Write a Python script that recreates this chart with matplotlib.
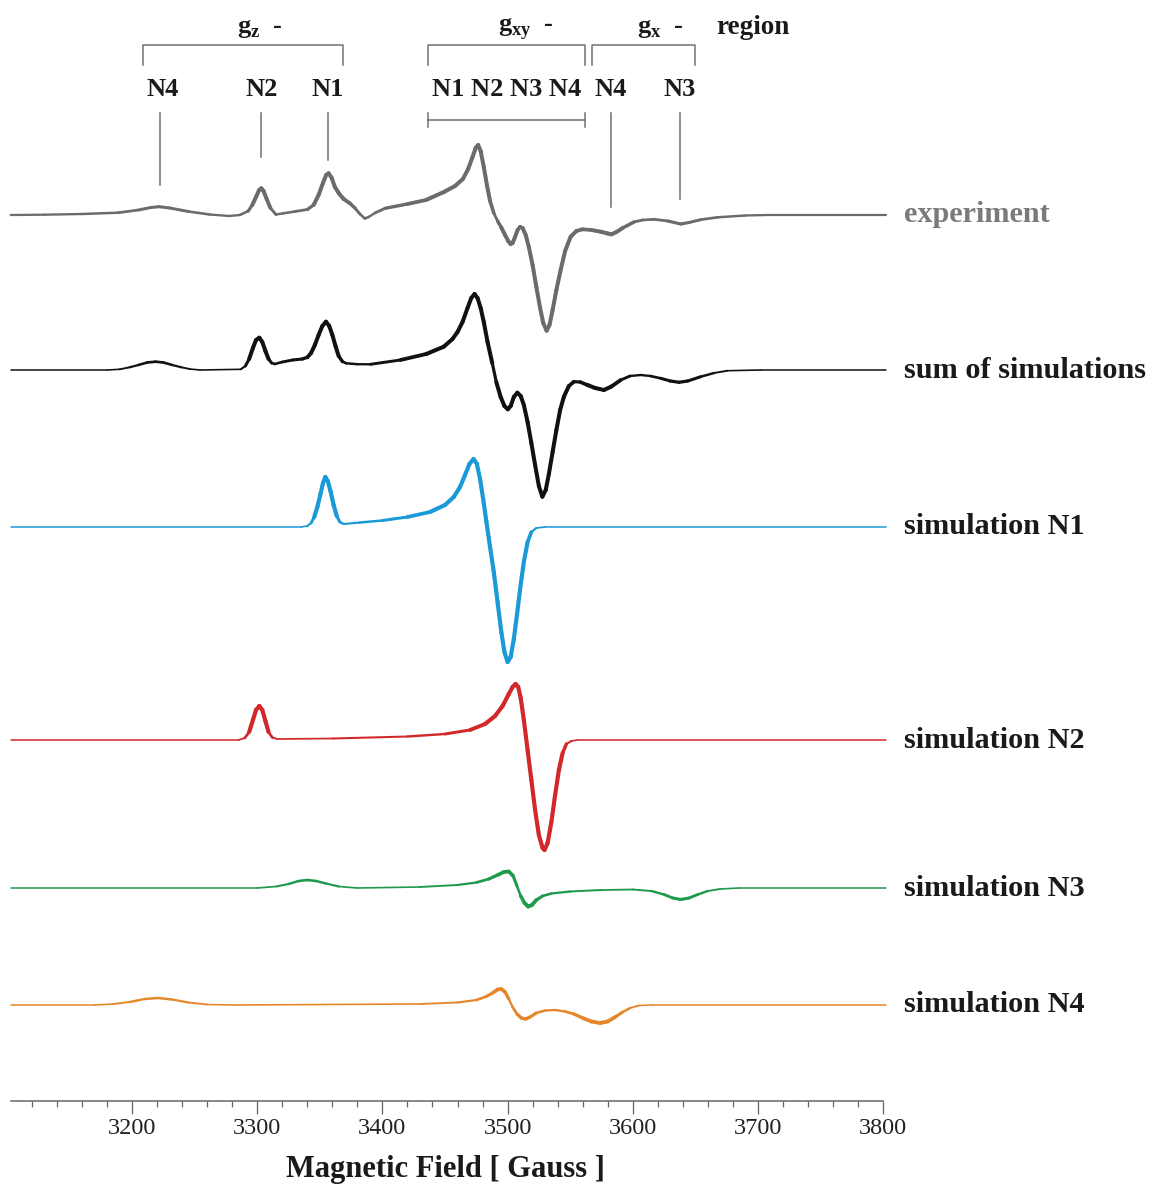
import numpy as np
import matplotlib.pyplot as plt
from matplotlib.collections import LineCollection

plt.rcParams['font.family'] = ['Liberation Serif', 'DejaVu Serif']
plt.rcParams['mathtext.fontset'] = 'custom'
plt.rcParams['mathtext.rm'] = 'Liberation Serif'
plt.rcParams['mathtext.bf'] = 'Liberation Serif:bold'

# field in Gauss, signal in arbitrary units (first derivative EPR)
exp_field = [3103, 3130, 3160, 3188.8, 3205, 3215, 3221.6, 3230, 3245, 3262, 3277.6, 3286, 3292.8,
             3296, 3299, 3301.5, 3303.2, 3305, 3307.5, 3310.5, 3314.9, 3320, 3330, 3340, 3345,
             3349, 3352.5, 3355, 3357, 3359.5, 3362, 3365.2, 3369, 3374, 3378, 3382, 3385.9,
             3389, 3394, 3402.2, 3420, 3434.8, 3449.6, 3458, 3464.3, 3468.5, 3472, 3474.5,
             3476.5, 3478.5, 3481, 3483.5, 3486, 3489, 3492, 3495, 3498, 3500.5, 3502.4, 3504,
             3506, 3508, 3510, 3512, 3514.5, 3517, 3520, 3523, 3526, 3528.5, 3531.2, 3533.5,
             3536, 3539, 3542.4, 3546, 3550.4, 3555, 3559.8, 3567, 3574.4, 3580, 3583, 3587,
             3592, 3601, 3608, 3617, 3628, 3638.4, 3645, 3655, 3667.8, 3690, 3707.8, 3802]
exp_signal = [0, 0.3, 1, 2.3, 5, 7.5, 8.3, 7, 3.5, 0.5, -1, 0, 4,
              10, 18, 25, 26.7, 24, 16, 7, 0.5, 1.5, 3.5, 5.5, 10,
              20, 32, 40, 41.7, 37, 28, 21.7, 16, 11.7, 7, 1, -3.5,
              -2, 2, 6.7, 11, 15, 23.3, 29, 36, 46, 58, 67,
              70, 64, 48, 30, 14, 2, -6, -12.5, -20, -26, -29, -28,
              -22, -15, -11.7, -13, -20, -32, -50, -72, -93, -108, -115.7, -110,
              -95, -75, -55, -36, -21.7, -16, -14.3, -15, -16.7, -18.5, -19.3, -17,
              -13, -7, -5, -4.3, -6, -9, -7.5, -4.5, -2.3, -0.5, 0, 0]

sum_field = [3103, 3180, 3190, 3198, 3205, 3212, 3218.7, 3225, 3232, 3239.4, 3246, 3254.2, 3286.8,
             3290.5, 3293.5, 3296.5, 3299, 3301.6, 3304, 3306.5, 3309, 3311.5, 3314, 3320, 3328.2,
             3336, 3340, 3343, 3346, 3349, 3352, 3354.9, 3357.5, 3360, 3362.5, 3365, 3368, 3371.1,
             3380, 3390.4, 3414.4, 3435, 3449, 3456, 3460, 3464, 3468, 3471, 3473.6, 3476, 3478.5,
             3481, 3484, 3487.8, 3491, 3494.4, 3497.5, 3500.2, 3502.5, 3505, 3507.8, 3510.5, 3513,
             3516, 3519, 3522, 3525, 3527.8, 3530.5, 3533, 3536, 3539, 3542, 3545, 3549, 3553,
             3558, 3563.8, 3570, 3577, 3583, 3590.4, 3598, 3606.4, 3614, 3622.4, 3630, 3637, 3644,
             3654.4, 3665, 3675.8, 3702.4, 3802]
sum_signal = [0, 0, 0.7, 2.7, 5, 7.5, 8.3, 7.5, 5, 2.7, 1, 0, 0.7,
              4, 11, 22, 30, 32.3, 28, 19, 11, 7, 6, 8, 10,
              11, 12.7, 17, 25, 35, 44, 48.3, 44, 35, 24, 14, 8.5, 6.7,
              5.8, 5.7, 10, 16, 23.3, 31, 38, 48, 62, 72, 76, 72, 62,
              48, 28, 6.7, -12, -26.7, -36, -39.3, -36, -27, -22.7, -26, -35,
              -52, -73, -95, -116, -126.7, -120, -104, -82, -60, -40, -26.7, -16, -11.7,
              -12, -15, -18, -20, -16.5, -10, -6, -5, -6, -8.3, -11, -12.3, -11,
              -6.7, -3, -0.7, 0, 0]

n1_field = [3103, 3335, 3340, 3343, 3345.5, 3348, 3350.5, 3352.5, 3354.4, 3356.3, 3358.5, 3361,
            3363.5, 3366, 3369, 3382, 3400, 3420, 3438, 3450, 3457, 3462, 3466, 3469.5, 3472.8,
            3475.5, 3478, 3480.5, 3483, 3486, 3489, 3492, 3495, 3497.5, 3500, 3502.5, 3505,
            3507.5, 3510, 3513, 3516, 3519, 3523, 3530, 3802]
n1_signal = [0, 0, 1, 4, 10, 20, 33, 44, 50, 46, 36, 22,
             11, 5, 3, 4.5, 6.5, 10, 15, 22, 30, 40, 52, 63, 68,
             63, 48, 28, 6, -20, -45, -75, -105, -125, -135, -130, -112,
             -88, -62, -35, -15, -5, -1, 0, 0]

n2_field = [3103, 3285, 3290, 3293.5, 3296.5, 3299, 3301.6, 3304, 3306.5, 3309, 3312, 3316, 3360,
            3420, 3450, 3470, 3482, 3490, 3496, 3501, 3504, 3506.4, 3508.5, 3510.5, 3513, 3516,
            3519, 3522, 3525, 3528, 3529.5, 3532, 3535, 3538, 3541, 3544, 3547, 3551, 3556, 3802]
n2_signal = [0, 0, 2, 8, 20, 30, 34, 30, 19, 8, 2.5, 1, 1.5,
             3.5, 6, 10, 16, 24, 34, 46, 53, 56, 53, 42, 20, -10,
             -40, -70, -95, -108, -110, -103, -82, -55, -30, -13, -4, -1, 0, 0]

n3_field = [3103, 3300, 3315, 3325, 3333, 3340, 3347, 3355, 3365, 3380, 3430, 3460, 3475, 3485,
            3492, 3497, 3501, 3504.5, 3507.5, 3510.5, 3513.5, 3516.5, 3519.5, 3523, 3528, 3535,
            3550, 3575, 3600, 3615, 3625, 3632, 3638.4, 3645, 3652, 3660, 3670, 3685, 3802]
n3_signal = [0, 0, 1.5, 4, 7, 8, 7, 4.5, 1.5, 0, 1, 3, 5.5, 9,
             13, 16, 16.5, 12, 2, -8, -15, -18.5, -17, -12, -8, -5.5,
             -3.5, -2, -1.5, -3, -6.5, -10, -11.5, -10, -6.5, -3, -1, 0, 0]

n4_field = [3103, 3170, 3185, 3198, 3210, 3220.8, 3232, 3245, 3260, 3280, 3430, 3460, 3475, 3483,
            3488, 3492, 3495, 3498, 3501, 3504, 3507.5, 3511, 3514.5, 3518, 3523, 3530, 3538,
            3546, 3553, 3560, 3567, 3574, 3580, 3586, 3592, 3598, 3605, 3615, 3802]
n4_signal = [0, 0, 1, 3, 6, 7, 5.5, 2.5, 0.5, 0, 1, 2.5, 5, 8.5,
             12, 15.5, 16, 13, 6, -2, -9, -13, -14, -12, -8, -5.5, -5,
             -6.5, -9, -13, -16.5, -18, -16.5, -12, -7, -3, -0.5, 0, 0]

trace_labels = ['experiment', 'sum of simulations', 'simulation N1',
                'simulation N2', 'simulation N3', 'simulation N4']


def draw_trace(ax, field, signal, offset, color, thin, thick):
    x = np.asarray(field, dtype=float)
    s = np.asarray(signal, dtype=float)
    pts = np.column_stack([x, offset + s]).reshape(-1, 1, 2)
    segs = np.concatenate([pts[:-1], pts[1:]], axis=1)
    amp = np.maximum(np.abs(s[:-1]), np.abs(s[1:]))
    lw = thin + (thick - thin) * np.clip(amp / 18.0, 0, 1)
    lc = LineCollection(segs, colors=color, linewidths=lw, capstyle='round',
                        joinstyle='round', clip_on=False)
    ax.add_collection(lc)


fig = plt.figure(figsize=(11.58, 11.94), dpi=100)
ax = fig.add_axes([7 / 1158, 93 / 1194, 876 / 1158, 1101 / 1194])
ax.set_xlim(3100, 3800)
ax.set_ylim(-1101, 0)

traces = [
    (exp_field, exp_signal, -215, '#6b6b6b', 1.6, 2.9),
    (sum_field, sum_signal, -370, '#111111', 1.1, 2.9),
    (n1_field, n1_signal, -527, '#1b9ad8', 1.1, 3.0),
    (n2_field, n2_signal, -740, '#d3282a', 1.1, 3.0),
    (n3_field, n3_signal, -888, '#1f9a4c', 1.1, 2.8),
    (n4_field, n4_signal, -1005, '#e5862a', 1.1, 2.8),
]
for (f, s, off, col, thin, thick), name in zip(traces, trace_labels):
    draw_trace(ax, f, s, off, col, thin, thick)
    ax.text(3817, off, name, fontsize=21.8, fontweight='bold', va='center', ha='left',
            color='#7a7a7a' if name == 'experiment' else '#1a1a1a', clip_on=False)

# region brackets and peak assignments
ann = dict(color='#707070', lw=1.1, clip_on=False)
for x0, x1 in [(3208.7, 3368.5), (3436.4, 3561.9), (3567.5, 3649.8)]:
    ax.plot([x0, x0, x1, x1], [-65, -45, -45, -65], **ann)
ax.plot([3436.4, 3561.9], [-120, -120], **ann)
ax.plot([3436.4, 3436.4], [-113, -127], **ann)
ax.plot([3561.9, 3561.9], [-113, -127], **ann)
for xl, ybot in [(3222.3, -185), (3303, -157), (3356.5, -160), (3582.7, -207), (3637.8, -199)]:
    ax.plot([xl, xl], [-113, ybot], **ann)

tk = dict(fontsize=19, fontweight='bold', ha='center', va='center', color='#1a1a1a')
ax.text(3302, -28, r'$\mathbf{g}_{\mathbf{z}}$  -', **tk)
ax.text(3515, -28, r'$\mathbf{g}_{\mathbf{xy}}$  -', **tk)
ax.text(3622, -28, r'$\mathbf{g}_{\mathbf{x}}$  -', **tk)
ax.text(3667, -28, 'region', fontsize=19.5, fontweight='bold', ha='left', va='center',
        color='#1a1a1a')
for xl, lab in [(3224.4, 'N4'), (3303.5, 'N2'), (3356.5, 'N1'), (3499.5, 'N1 N2 N3 N4'),
                (3582.7, 'N4'), (3637.8, 'N3')]:
    ax.text(xl, -90, lab, **tk)

for side in ['top', 'left', 'right']:
    ax.spines[side].set_visible(False)
ax.spines['bottom'].set_color('#666666')
ax.spines['bottom'].set_linewidth(1.1)
ax.spines['bottom'].set_bounds(3103, 3800)
ax.set_yticks([])
ax.set_xticks(np.arange(3200, 3801, 100))
ax.set_xticks(np.arange(3120, 3800, 20), minor=True)
ax.tick_params(axis='x', which='major', length=9, width=0.9, color='#666666',
               labelsize=17.5, pad=3, labelcolor='#222222')
ax.tick_params(axis='x', which='minor', length=4.5, width=0.9, color='#666666')
ax.set_xlabel('Magnetic Field [ Gauss ]', fontsize=22, fontweight='bold', labelpad=12,
              color='#1a1a1a')
ax.patch.set_alpha(0)

fig.savefig('out.png', dpi=100)
